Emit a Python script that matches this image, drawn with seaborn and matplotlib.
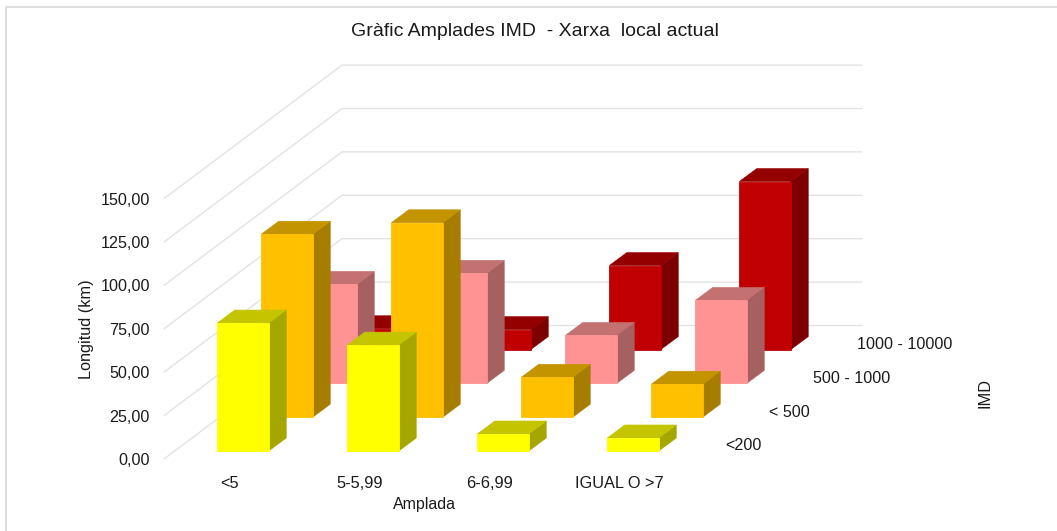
import numpy as np
import pandas as pd
import matplotlib
matplotlib.use("Agg")
import matplotlib.pyplot as plt
from matplotlib.lines import Line2D
import seaborn as sns

# Data
amplades = ["<5", "5-5,99", "6-6,99", "IGUAL O >7"]
imd_labels = ["<200", "< 500", "500 - 1000", "1000 - 10000"]
yellow_km = [73.7, 61.0, 9.8, 7.5]
orange_km = [105.4, 112.0, 23.0, 19.0]
pink_km = [57.0, 63.4, 27.6, 47.8]
red_km = [12.0, 11.5, 48.4, 96.8]
y_ticks = [0, 25, 50, 75, 100, 125, 150]

series = [yellow_km, orange_km, pink_km, red_km]
colors = ["#FFFF00", "#FFC000", "#FF9393", "#C00000"]

# Layout (pixels of the 1057x531 image)
W, H = 1057, 531
ax_left, ax_bottom, ax_top = 164, 459, 60
px_per_km = 1.736
px_per_cat = 130
cat0_px = 243

sns.set_theme(style="white")
plt.rcParams["font.family"] = ["Liberation Sans", "DejaVu Sans"]
text_color = "#1a1a1a"

fig = plt.figure(figsize=(W / 100, H / 100), dpi=100, facecolor="white")
ax = fig.add_axes([ax_left / W, (H - ax_bottom) / H, (W - ax_left) / W, (ax_bottom - ax_top) / H])
ax.set_xlim((ax_left - cat0_px) / px_per_cat, (W - cat0_px) / px_per_cat)
ax.set_ylim(0, (ax_bottom - ax_top) / px_per_km)
ax.patch.set_alpha(0)

# Chart area border, only top and left fall inside the crop
fig.add_artist(Line2D([6 / W, 6 / W, 1], [0, 1 - 6.5 / H, 1 - 6.5 / H], color="#DEDEDE", lw=1.5))

# Oblique offsets, converted from pixels to data units
bar_w = 51.5 / px_per_cat
step_x = 44 / px_per_cat
step_y = 33.8 / px_per_km
depth_x = 17.5 / px_per_cat
depth_y = 13 / px_per_km
floor0 = 8 / px_per_km

# Back walls and side wall
wall_x = (342 - cat0_px) / px_per_cat
end_x = (862 - cat0_px) / px_per_cat
rise = 133.5 / px_per_km
for t in y_ticks:
    ax.plot([ax.get_xlim()[0], wall_x, end_x], [t, t + rise, t + rise],
            color="#E3E3E3", lw=1.0, zorder=1, clip_on=False)


def shade(c, k):
    return tuple(np.array(matplotlib.colors.to_rgb(c)) * k)


# Back series first so the front ones cover them
for i in range(3, -1, -1):
    df = pd.DataFrame({"pos": np.arange(4) + i * step_x, "km": series[i]})
    floor = floor0 + i * step_y
    z = 10 + (3 - i) * 2
    sns.barplot(data=df, x="pos", y="km", native_scale=True, width=bar_w, color=colors[i],
                saturation=1, bottom=floor, edgecolor=colors[i], linewidth=0.6, zorder=z + 1, ax=ax)
    for x0, v in zip(df["pos"], df["km"]):
        l, r = x0 - bar_w / 2, x0 + bar_w / 2
        b, t = floor, floor + v
        ax.fill([r, r + depth_x, r + depth_x, r], [b, b + depth_y, t + depth_y, t],
                color=shade(colors[i], 0.65), lw=0.4, zorder=z)
        ax.fill([l, l + depth_x, r + depth_x, r], [t, t + depth_y, t + depth_y, t],
                color=shade(colors[i], 0.77), lw=0.4, zorder=z)

# Axes and ticks
ax.set_xlim((ax_left - cat0_px) / px_per_cat, (W - cat0_px) / px_per_cat)
sns.despine(ax=ax, left=True, bottom=True, top=True, right=True)
ax.grid(False)
ax.set_yticks(y_ticks, [f"{t},00" for t in y_ticks])
ax.tick_params(axis="y", length=0, pad=10, labelsize=11.6, labelcolor=text_color)
ax.set_xticks(np.arange(4) - 13.5 / px_per_cat, amplades)
ax.tick_params(axis="x", length=0, pad=12.5, labelsize=11.8, labelcolor=text_color)
ax.set_xlabel("Amplada", fontsize=11.5, color=text_color)
ax.xaxis.set_label_coords((424 - ax_left) / (W - ax_left), -(505 - ax_bottom) / (ax_bottom - ax_top))
ax.xaxis.label.set_va("center")
ax.set_ylabel("Longitud (km)", fontsize=11.7, color=text_color)
ax.yaxis.set_label_coords(-(ax_left - 86) / (W - ax_left), (ax_bottom - 329) / (ax_bottom - ax_top))
ax.yaxis.label.set_va("center")

# Depth axis labels follow the series
for i, lab in enumerate(imd_labels):
    ax.text(3 + i * step_x + 117.5 / px_per_cat - bar_w / 2, 7.6 + i * step_y, lab,
            fontsize=11.6, color=text_color, va="center", ha="left")

fig.text(985 / W, 1 - 393 / H, "IMD", rotation=90, fontsize=11.8, color=text_color, ha="center", va="center")
fig.text(534.5 / W, 1 - 31.5 / H, "Gràfic Amplades IMD  - Xarxa  local actual", fontsize=14,
         color=text_color, ha="center", va="center")

fig.savefig("out.png", dpi=100, facecolor="white")
